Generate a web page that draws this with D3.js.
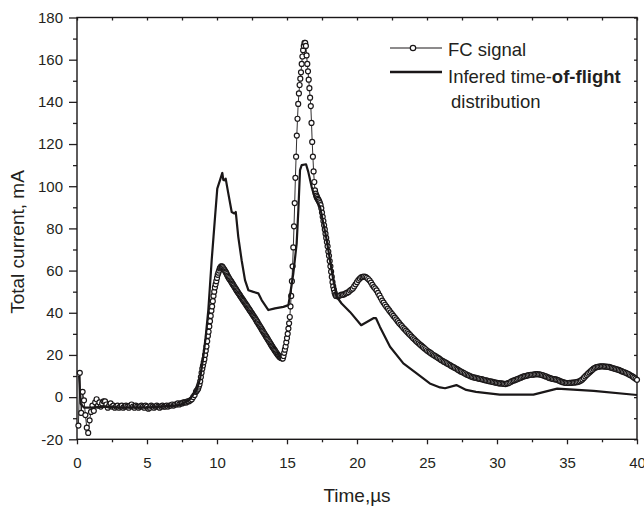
<!doctype html>
<html>
<head>
    <meta charset="UTF-8">
    <title>FC signal</title>
    <script src="https://cdn.jsdelivr.net/npm/d3@7"></script>
    <style>
        body { margin: 0; background: #fff; }
        svg text { font-family: "Liberation Sans", Arial, Helvetica, sans-serif; fill: #231f20; }
        .axis path.domain { display: none; }
        .axis line { stroke: #231f20; stroke-width: 1.3; }
        .axis text { font-size: 15px; }
    </style>
</head>
<body>
<svg class="chart" width="644" height="508"></svg>
<script>
    // FC signal
    // t = 0.1 ... 8.4 us, every 0.1 us
    var fcEarly = [
        -13.5, 11.5, -7.5, 2.5, -1.5, -8.5, -14.5, -17, -11, -7,
        -4, -6.5, -2.5, -1, -4, -2.5, -4.5, -3, -2, -2,
        -3.5, -5, -4, -3, -4.5, -4, -5, -4.5, -4, -5,
        -4.5, -4, -5, -4.5, -4, -4.5, -5, -4, -3.5, -4.5,
        -5, -4, -4.5, -5, -4.5, -4, -4.5, -5, -4, -4.5,
        -5.5, -5, -4, -4.5, -5, -4.5, -4, -4.5, -5, -4.5,
        -4, -4.5, -4.5, -4, -4.5, -4, -4, -3.5, -4, -3.5,
        -3.5, -3, -3.5, -3, -3, -2.5, -2.5, -2.5, -2, -2,
        -1.5, -1, 0, 1
    ];
    // t = 8.5 ... 18.45 us, every 0.05 us
    var fcPeaks = [
        2.5, 3, 3.5, 4, 5, 6, 7.5, 9.5, 11.5, 13.5,
        15, 16.5, 18, 20, 22, 24, 26.5, 29, 31, 33.5,
        36, 38.5, 41, 43, 45.5, 48, 50, 52, 53.5, 55,
        56.5, 58, 59, 60, 61, 61.5, 62, 62, 61.6, 61.1,
        60.6, 60.1, 59.5, 59, 58.3, 57.6, 57, 56.4, 55.9, 55.4,
        54.9, 54.4, 53.8, 53.3, 52.8, 52.2, 51.7, 51.2, 50.6, 50.1,
        49.6, 49.1, 48.6, 48.1, 47.6, 47.1, 46.6, 46.1, 45.6, 45.1,
        44.6, 44.1, 43.6, 43.1, 42.6, 42.1, 41.6, 41.1, 40.6, 40.1,
        39.6, 39.1, 38.6, 38.1, 37.6, 37, 36.5, 35.9, 35.4, 34.8,
        34.3, 33.7, 33.2, 32.6, 32.1, 31.5, 31, 30.4, 29.9, 29.3,
        28.8, 28.3, 27.7, 27.2, 26.6, 26.1, 25.5, 25, 24.4, 23.9,
        23.4, 22.9, 22.4, 21.9, 21.4, 20.9, 20.4, 20, 19.6, 19.2,
        18.9, 18.7, 18.5, 18.4, 18.3, 19.5, 21, 22.5, 24, 26,
        28, 30, 32.5, 35, 38, 43, 48, 55, 62, 71,
        81, 92, 104, 114, 124, 132, 139, 144, 148, 151,
        154, 158, 161.5, 164.5, 166.5, 168, 168, 166.5, 162, 158,
        154.5, 150.5, 146.5, 142, 138, 130, 121, 114, 107, 102,
        98, 96.5, 95.5, 94.8, 94, 93.5, 92.8, 92, 91, 89.5,
        87.5, 85.5, 83.5, 81.5, 79.5, 77.5, 75.5, 73.5, 71.5, 69,
        67, 64.5, 62, 59.5, 57, 54.5, 52.5, 51, 49.5, 48.5
    ];
    // t = 18.5 ... 40.0 us, every 0.1 us
    var fcTail = [
        48, 47.8, 47.9, 48.3, 48.6, 48.5, 48.8, 49.2, 49.5, 49.8,
        50.5, 51, 51.5, 52.5, 53.5, 54.5, 55.5, 56.2, 56.8, 57,
        57.2, 57, 56.6, 56, 55.3, 54.3, 53.2, 52.2, 51.5, 50.6,
        49.4, 48.2, 47, 45.8, 44.8, 43.8, 42.9, 42, 41.1, 40.2,
        39.4, 38.5, 37.7, 36.9, 36, 35.2, 34.4, 33.7, 32.9, 32.2,
        31.5, 30.8, 30.1, 29.4, 28.7, 28, 27.4, 26.7, 26.1, 25.5,
        24.9, 24.4, 23.8, 23.2, 22.7, 22.1, 21.6, 21.2, 20.7, 20.2,
        19.8, 19.4, 19, 18.6, 18.1, 17.6, 17.2, 16.8, 16.5, 16.1,
        15.7, 15.3, 14.9, 14.5, 14.2, 13.8, 13.4, 13, 12.6, 12.2,
        11.9, 11.5, 11.2, 10.8, 10.5, 10.2, 9.9, 9.6, 9.4, 9.3,
        9.1, 8.9, 8.8, 8.6, 8.5, 8.3, 8.1, 8, 7.8, 7.6,
        7.5, 7.4, 7.2, 7, 6.9, 6.8, 6.6, 6.5, 6.5, 6.4,
        6.3, 6.2, 6.4, 6.6, 6.9, 7.3, 7.6, 7.9, 8.1, 8.4,
        8.7, 8.9, 9.2, 9.5, 9.8, 10, 10.1, 10.3, 10.5, 10.6,
        10.6, 10.7, 10.8, 10.9, 10.9, 10.8, 10.7, 10.5, 10.3, 10,
        9.8, 9.5, 9.2, 9, 8.8, 8.6, 8.5, 8.4, 8.2, 7.9,
        7.6, 7.3, 7.1, 6.9, 6.8, 6.7, 6.7, 6.8, 6.8, 6.9,
        6.9, 7, 7.1, 7.3, 7.5, 7.9, 8.4, 9.1, 9.8, 10.5,
        11.1, 11.7, 12.3, 12.9, 13.5, 13.9, 14.2, 14.4, 14.5, 14.6,
        14.6, 14.6, 14.5, 14.5, 14.4, 14.3, 14.1, 13.9, 13.7, 13.5,
        13.3, 13.1, 12.9, 12.6, 12.3, 12, 11.8, 11.5, 11.2, 10.9,
        10.5, 10.1, 9.7, 9.2, 8.7, 8.2
    ];

    // infered time-of-flight distribution (solid line)
    var tofTime = [0.15, 0.25, 0.5, 1, 2, 3, 4, 5, 6, 7, 7.36, 8, 8.55, 8.8, 9.02, 9.2, 9.38, 9.5, 9.62, 9.75,
        9.86, 10.02, 10.21, 10.38, 10.45, 10.52, 10.62, 10.81, 11.05, 11.24, 11.34, 11.52, 11.76, 12, 12.24,
        12.6, 12.95, 13.19, 13.67, 14.14, 14.74, 15.1, 15.29, 15.45, 15.69, 15.81, 15.93, 16.05, 16.36, 16.52,
        16.76, 17, 17.36, 17.6, 17.84, 18.07, 18.31, 18.55, 18.9, 19.5, 20.3, 21.2, 21.35, 21.64, 22.36, 23.31,
        24.26, 25.2, 25.93, 26.29, 27.1, 27.8, 28.5, 30.2, 32.6, 34.3, 36.9, 40];
    var tofCurrent = [10, -3, -5, -5, -4.5, -5, -5, -5, -4.5, -4, -3.7, -1.5, 3.4, 9, 19.1, 29, 41.3, 53, 64.9, 76,
        85.4, 98.9, 102.8, 106.3, 103, 102.8, 103.6, 96.5, 87.8, 87.1, 87.8, 76, 64.9, 55.5, 50.7,
        49.9, 49.2, 46, 41.3, 42.1, 42.8, 43.6, 51.5, 58.6, 72.8, 88.6, 107.6, 110, 110.4, 106.8,
        99.7, 94.2, 90.2, 82.3, 74.4, 64.9, 55.5, 47.6, 44.4, 40.4, 34.1, 37.5, 37.5, 33.3, 23.9, 16,
        11.3, 6.5, 4.6, 4.2, 5.7, 3.4, 2.5, 1.2, 1.2, 4, 3, 1];

    var xMajor = [0, 5, 10, 15, 20, 25, 30, 35, 40];
    var xMinor = [2.5, 7.5, 12.5, 17.5, 22.5, 27.5, 32.5, 37.5];
    var yMajor = [-20, 0, 20, 40, 60, 80, 100, 120, 140, 160, 180];
    var yMinor = [-10, 10, 30, 50, 70, 90, 110, 130, 150, 170];

    var legendLabels = ["FC signal", "Infered time-", "of-flight", "distribution"];
    var xTitle = "Time,\u00b5s";
    var yTitle = "Total current, mA";

    function sampled(values, t0, dt) {
        return values.map(function (v, i) {
            return {t: +(t0 + i * dt).toFixed(3), v: v};
        });
    }

    var fc = sampled(fcEarly, 0.1, 0.1)
        .concat(sampled(fcPeaks, 8.5, 0.05))
        .concat(sampled(fcTail, 18.5, 0.1));
    var tof = tofTime.map(function (t, i) { return {t: t, v: tofCurrent[i]}; });

    var plotLeft = 77, plotRight = 637, plotTop = 17.5, plotBottom = 439.3;
    var x = d3.scaleLinear().domain([0, 40]).range([plotLeft, plotRight]);
    var y = d3.scaleLinear().domain([-20, 180]).range([plotBottom, plotTop]);

    var svg = d3.select(".chart");
    var ink = "#1a1718";

    // axes
    svg.append("g").attr("class", "axis").attr("transform", "translate(0," + plotBottom + ")")
        .call(d3.axisBottom(x).tickValues(xMajor).tickSize(5).tickPadding(13).tickFormat(function (d) { return d; }));
    svg.append("g").attr("class", "axis").attr("transform", "translate(0," + plotBottom + ")")
        .call(d3.axisBottom(x).tickValues(xMinor).tickSize(3).tickFormat(""));
    svg.append("g").attr("class", "axis").attr("transform", "translate(" + plotLeft + ",0)")
        .call(d3.axisLeft(y).tickValues(yMajor).tickSize(8).tickPadding(6).tickFormat(function (d) { return d; }));
    svg.append("g").attr("class", "axis").attr("transform", "translate(" + plotLeft + ",0)")
        .call(d3.axisLeft(y).tickValues(yMinor).tickSize(4).tickFormat(""));
    svg.append("g").attr("class", "axis").attr("transform", "translate(0," + plotTop + ")")
        .call(d3.axisTop(x).tickValues(xMajor.concat(xMinor)).tickSize(-3).tickFormat(""));
    svg.append("g").attr("class", "axis").attr("transform", "translate(" + plotRight + ",0)")
        .call(d3.axisRight(y).tickValues(yMajor.concat(yMinor)).tickSize(-3).tickFormat(""));

    svg.append("rect")
        .attr("x", plotLeft).attr("y", plotTop)
        .attr("width", plotRight - plotLeft).attr("height", plotBottom - plotTop)
        .attr("fill", "none").attr("stroke", ink).attr("stroke-width", 1.4);

    // titles
    svg.append("text")
        .attr("x", (plotLeft + plotRight) / 2).attr("y", 502)
        .attr("text-anchor", "middle").style("font-size", "19px")
        .text(xTitle);
    svg.append("text")
        .attr("transform", "translate(24,242) rotate(-90)")
        .attr("text-anchor", "middle").style("font-size", "19px")
        .text(yTitle);

    // FC signal: thin line + open circles
    var line = d3.line().x(function (d) { return x(d.t); }).y(function (d) { return y(d.v); });

    svg.append("path").datum(fc)
        .attr("d", line).attr("fill", "none")
        .attr("stroke", ink).attr("stroke-width", 0.9);

    svg.append("g").selectAll("circle").data(fc)
        .enter().append("circle")
        .attr("cx", function (d) { return x(d.t); })
        .attr("cy", function (d) { return y(d.v); })
        .attr("r", 2.5)
        .attr("fill", "#fff").attr("stroke", ink).attr("stroke-width", 1.2);

    // time-of-flight line
    svg.append("path").datum(tof)
        .attr("d", line).attr("fill", "none")
        .attr("stroke", ink).attr("stroke-width", 2.2)
        .attr("stroke-linejoin", "round");

    // legend
    var legend = svg.append("g");
    legend.append("line").attr("x1", 390).attr("x2", 442).attr("y1", 48).attr("y2", 48)
        .attr("stroke", ink).attr("stroke-width", 1);
    legend.append("circle").attr("cx", 413).attr("cy", 48).attr("r", 2.7)
        .attr("fill", "#fff").attr("stroke", ink).attr("stroke-width", 1.2);
    legend.append("text").attr("x", 448).attr("y", 56).style("font-size", "18.5px").text(legendLabels[0]);

    legend.append("line").attr("x1", 390).attr("x2", 442).attr("y1", 72).attr("y2", 72)
        .attr("stroke", ink).attr("stroke-width", 2.4);
    var t2 = legend.append("text").attr("x", 448).attr("y", 83.3).style("font-size", "18.5px");
    t2.append("tspan").text(legendLabels[1]);
    t2.append("tspan").style("font-weight", "bold").text(legendLabels[2]);
    legend.append("text").attr("x", 451).attr("y", 108.3).style("font-size", "18.5px").text(legendLabels[3]);
</script>
</body>
</html>
